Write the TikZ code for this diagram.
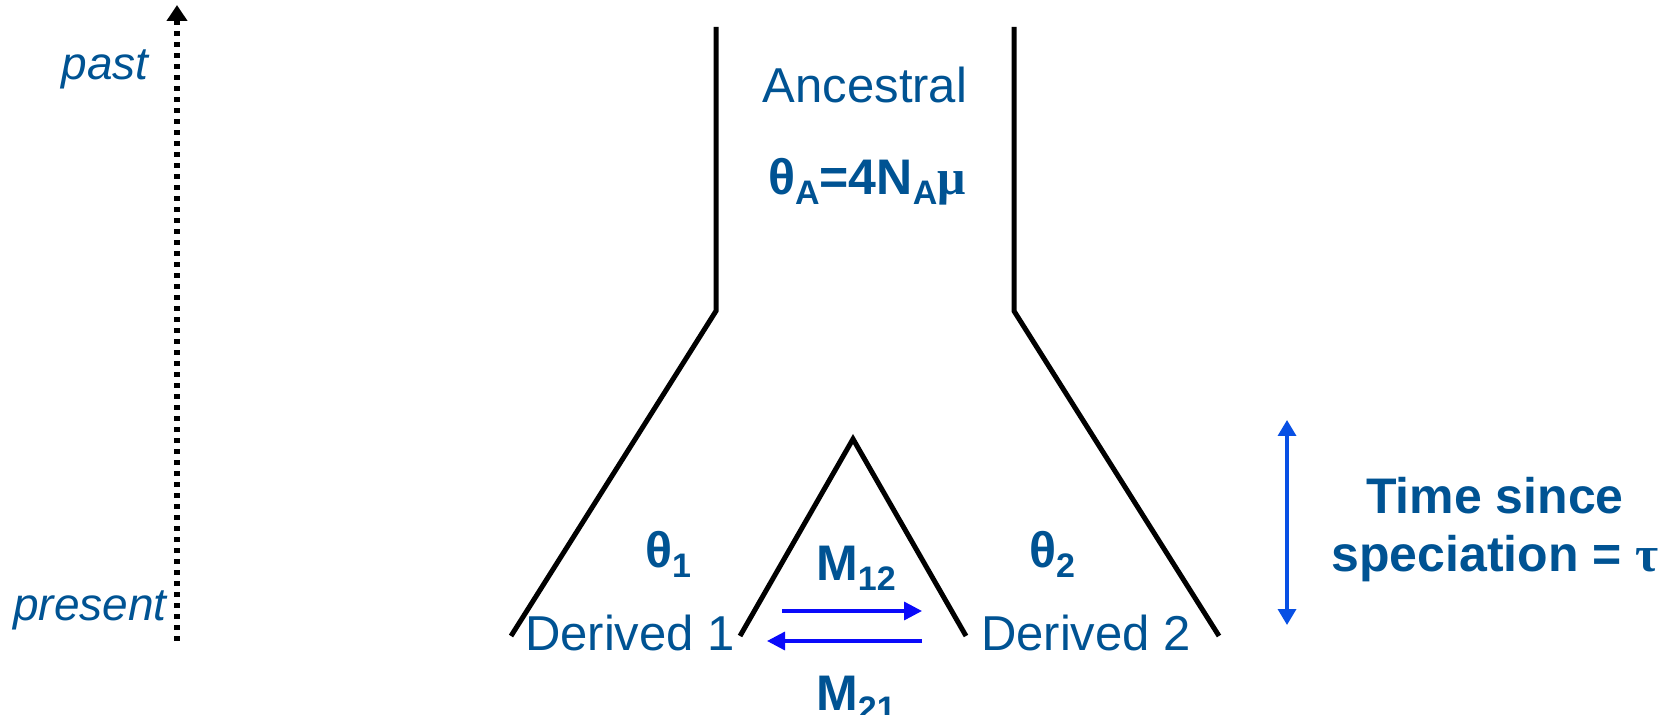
\documentclass[tikz,border=0pt]{standalone}
\usepackage{fontspec}
\setmainfont{Liberation Sans}
\newfontfamily\grk{Liberation Serif}
\usetikzlibrary{arrows.meta}
\definecolor{txtblue}{RGB}{0,83,147}
\definecolor{timeblue}{RGB}{8,80,228}
\definecolor{migblue}{RGB}{10,10,250}
\newcommand\lsub[1]{\raisebox{-5pt}{\fontsize{17}{17}\selectfont #1}}
\tikzset{
  lbl/.style={text=txtblue, inner sep=0pt, anchor=base, font=\fontsize{24.5}{28}\selectfont},
  ital/.style={lbl, font=\fontsize{23}{26}\selectfont\itshape},
  bold/.style={lbl, font=\fontsize{25}{29}\selectfont\bfseries},
  branch/.style={line width=2.5pt, black},
  migr/.style={line width=1.7pt, migblue, -{Triangle[length=9pt,width=9pt]}},
  timearr/.style={line width=1.7pt, timeblue, {Triangle[length=8pt,width=9pt]}-{Triangle[length=8pt,width=9pt]}},
  axisarr/.style={line width=2.6pt, black, dash pattern=on 2.6pt off 2.9pt, -{Triangle[length=8pt,width=10pt]}}
}
\begin{document}
\begin{tikzpicture}[x=0.5pt,y=-0.5pt]
\useasboundingbox (0,0) rectangle (1668,715);
% time axis
\coordinate (axb) at (177,641);
\coordinate (axt) at (177,5);
\draw[axisarr] (axb) -- (axt);
\node[ital] (past) at (105,80) {past};
\node[ital] (present) at (90,620) {present};
% ancestral population
\coordinate (lt) at (716,27);
\coordinate (lm) at (716,311);
\coordinate (lb) at (511,636);
\coordinate (rt) at (1014,27);
\coordinate (rm) at (1014,311);
\coordinate (rb) at (1219,636);
\coordinate (ia) at (853,439);
\coordinate (il) at (740,636);
\coordinate (ir) at (966,636);
\draw[branch] (lt) -- (lm) -- (lb);
\draw[branch] (rt) -- (rm) -- (rb);
\draw[branch] (il) -- (ia) -- (ir);
\node[lbl] (anc) at (865,103) {Ancestral};
\node[bold] (thA) at (867,195) {θ\lsub{A}=4N\lsub{A}{\grk μ}};
% derived populations
\node[lbl] (d1) at (630,650) {Derived 1};
\node[lbl] (d2) at (1086,650) {Derived 2};
\node[bold] (th1) at (668,567) {θ\lsub{1}};
\node[bold] (th2) at (1052,567) {θ\lsub{2}};
% migration
\coordinate (m1s) at (782,611);
\coordinate (m1e) at (922,611);
\coordinate (m2s) at (922,641);
\coordinate (m2e) at (767,641);
\draw[migr] (m1s) -- (m1e);
\draw[migr] (m2s) -- (m2e);
\node[bold] (M12) at (856,580) {M\lsub{12}};
\node[bold] (M21) at (856,710) {M\lsub{21}};
% time since speciation
\coordinate (tb) at (1287,625);
\coordinate (tt) at (1287,420);
\draw[timearr] (tb) -- (tt);
\node[bold] (time1) at (1495,513) {Time since};
\node[bold] (time2) at (1495,571) {speciation = {\grk τ}};
\end{tikzpicture}
\end{document}
